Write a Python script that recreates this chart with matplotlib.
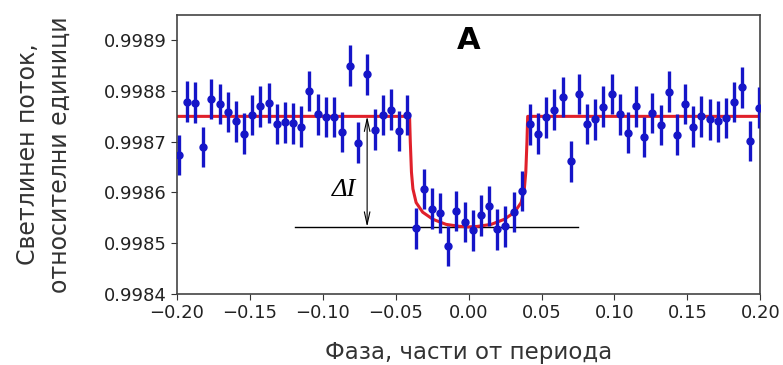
import matplotlib
matplotlib.use("Agg")
import matplotlib.pyplot as plt

# phase of each observation
phase = [-0.1988, -0.1932, -0.1876, -0.1820, -0.1764, -0.1708, -0.1652, -0.1596,
         -0.1540, -0.1484, -0.1428, -0.1372, -0.1316, -0.1260, -0.1204, -0.1148,
         -0.1092, -0.1036, -0.0980, -0.0924, -0.0868, -0.0812, -0.0756, -0.0700,
         -0.0644, -0.0588, -0.0532, -0.0476, -0.0420, -0.0364, -0.0308, -0.0252,
         -0.0196, -0.0140, -0.0084, -0.0028, 0.0028, 0.0084, 0.0140, 0.0196,
         0.0252, 0.0308, 0.0364, 0.0420, 0.0476, 0.0532, 0.0588, 0.0644,
         0.0700, 0.0756, 0.0812, 0.0868, 0.0924, 0.0980, 0.1036, 0.1092,
         0.1148, 0.1204, 0.1260, 0.1316, 0.1372, 0.1428, 0.1484, 0.1540,
         0.1596, 0.1652, 0.1708, 0.1764, 0.1820, 0.1876, 0.1932, 0.1988]

flux = [0.998674, 0.998779, 0.998777, 0.998690, 0.998784, 0.998774, 0.998759, 0.998740,
        0.998716, 0.998753, 0.998770, 0.998776, 0.998735, 0.998738, 0.998736, 0.998730,
        0.998800, 0.998754, 0.998749, 0.998749, 0.998719, 0.998850, 0.998698, 0.998833,
        0.998724, 0.998753, 0.998763, 0.998721, 0.998753, 0.998529, 0.998607, 0.998568,
        0.998559, 0.998494, 0.998563, 0.998542, 0.998525, 0.998555, 0.998573, 0.998527,
        0.998533, 0.998561, 0.998603, 0.998734, 0.998716, 0.998748, 0.998763, 0.998788,
        0.998661, 0.998794, 0.998735, 0.998744, 0.998769, 0.998794, 0.998754, 0.998718,
        0.998770, 0.998709, 0.998757, 0.998733, 0.998799, 0.998714, 0.998774, 0.998730,
        0.998750, 0.998744, 0.998740, 0.998747, 0.998778, 0.998807, 0.998701, 0.998767]

flux_err = [0.00004] * len(flux)

# model light curve
model_phase = [-0.20, -0.0405, -0.0400, -0.0392, -0.0382, -0.0360, -0.0315, -0.0245,
               -0.0155, -0.0060, 0.0, 0.0060, 0.0155, 0.0245, 0.0315, 0.0360,
               0.0382, 0.0392, 0.0400, 0.0405, 0.20]
model_flux = [0.99875, 0.99875, 0.99870, 0.99864, 0.998607, 0.998580, 0.998561, 0.998547,
              0.998537, 0.998533, 0.998532, 0.998533, 0.998537, 0.998547, 0.998561, 0.998580,
              0.998607, 0.99864, 0.99870, 0.99875, 0.99875]

top_level = 0.99875
bottom_level = 0.998532

fig = plt.figure(figsize=(7.83, 3.65), dpi=100)
ax = fig.add_axes([0.226, 0.195, 0.745, 0.764])

ax.errorbar(phase, flux, yerr=flux_err, fmt='o', color='#1515c8', ms=5,
            elinewidth=2.4, capsize=0, zorder=3)
ax.plot(model_phase, model_flux, color='#e0202a', lw=2.2, zorder=2)

# depth marker
ax.plot([-0.1192, 0.0752], [bottom_level, bottom_level], color='black', lw=1.0, zorder=1)
ax.annotate('', xy=(-0.0696, bottom_level), xytext=(-0.0696, top_level),
            arrowprops=dict(arrowstyle='<->,head_length=0.9,head_width=0.2',
                            color='black', lw=0.8, shrinkA=0, shrinkB=0), zorder=1)
ax.text(-0.0855, 0.998605, 'ΔI', fontsize=19, style='italic',
        family='Liberation Serif', ha='center', va='center')

ax.text(0.0, 0.99890, 'A', fontsize=22, fontweight='bold', ha='center', va='center')

ax.set_xlim(-0.20, 0.20)
ax.set_ylim(0.9984, 0.99895)
ax.set_xticks([-0.20, -0.15, -0.10, -0.05, 0.00, 0.05, 0.10, 0.15, 0.20])
ax.set_xticklabels(['−0.20', '−0.15', '−0.10', '−0.05', '0.00', '0.05', '0.10', '0.15', '0.20'])
ax.set_yticks([0.9984, 0.9985, 0.9986, 0.9987, 0.9988, 0.9989])
ax.set_yticklabels(['0.9984', '0.9985', '0.9986', '0.9987', '0.9988', '0.9989'])
ax.tick_params(labelsize=13, direction='out', length=4, color='#333333')
for s in ax.spines.values():
    s.set_color('#444444')
    s.set_linewidth(1.2)

ax.set_xlabel('Фаза, части от периода', fontsize=16.5, color='#333333', va='center')
ax.xaxis.set_label_coords(0.5, -0.212)
ax.set_ylabel('Светлинен поток,\nотносителни единици', fontsize=17, color='#333333',
              linespacing=1.45, va='center')
ax.yaxis.set_label_coords(-0.228, 0.5)
for lbl in ax.get_xticklabels() + ax.get_yticklabels():
    lbl.set_color('#222222')

fig.savefig('out.png', dpi=100)
